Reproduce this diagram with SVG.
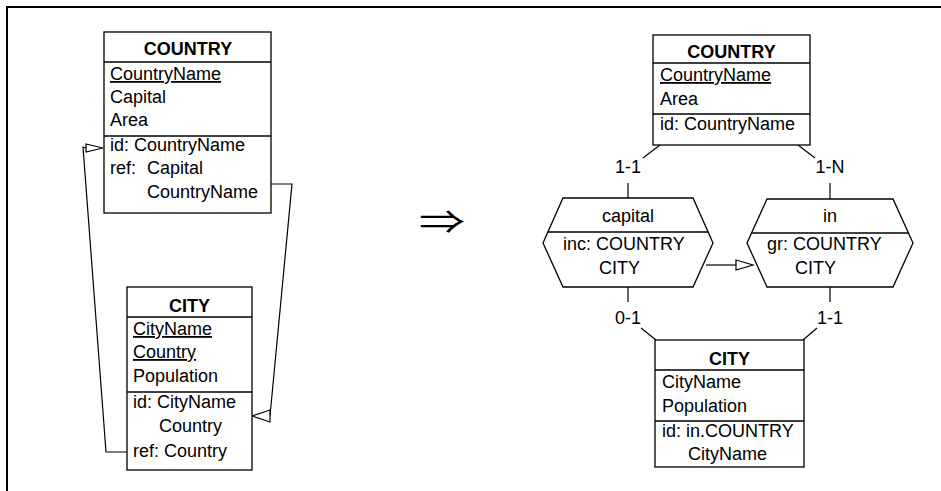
<svg xmlns="http://www.w3.org/2000/svg" width="941" height="491" viewBox="0 0 941 491">
  <style>
    .box { fill: #fff; stroke: #000; stroke-width: 1.3; }
    .sep { stroke: #000; stroke-width: 1.3; fill: none; }
    .ln { stroke: #000; stroke-width: 1.2; fill: none; }
    .head { fill: #fff; stroke: #000; stroke-width: 1.2; }
    text { font-family: "Liberation Sans", Arial, sans-serif; font-size: 18px; fill: #000; }
    .title { font-weight: bold; text-anchor: middle; }
    .mid { text-anchor: middle; }
    .u { text-decoration: underline; }
    .implies { font-family: "Noto Sans CJK JP", "DejaVu Sans", sans-serif; font-size: 46px; text-anchor: middle; }
  </style>

  <rect width="941" height="491" fill="#fff"/>
  <!-- frame -->
  <path d="M7,491 V7 H941" fill="none" stroke="#000" stroke-width="2"/>

  <!-- connectors -->
  <g id="connectors">
    <!-- CITY.ref Country -> COUNTRY.id -->
    <polyline class="ln" points="127,452 106,452 83,147 86,148"/>
    <polygon class="head" points="86,144 103,148 86,152"/>
    <!-- COUNTRY.ref Capital -> CITY.id -->
    <polyline class="ln" points="271,184 292,184 270,416"/>
    <polygon class="head" points="270,410 252,416 270,422"/>

    <!-- transformation arrow, flattened vertically -->
    <text x="442" y="238" class="implies" transform="matrix(1 0 0 0.72 0 62.2)">⇒</text>

    <!-- capital role links -->
    <line class="ln" x1="660" y1="145" x2="643" y2="158"/>
    <text x="628" y="173" class="mid">1-1</text>
    <line class="ln" x1="628" y1="183" x2="628" y2="198"/>
    <line class="ln" x1="628" y1="287" x2="628" y2="302"/>
    <text x="628" y="324" class="mid">0-1</text>
    <line class="ln" x1="641" y1="328" x2="656" y2="340"/>

    <!-- in role links -->
    <line class="ln" x1="798" y1="145" x2="815" y2="158"/>
    <text x="830" y="173" class="mid">1-N</text>
    <line class="ln" x1="830" y1="183" x2="830" y2="199"/>
    <line class="ln" x1="830" y1="287" x2="830" y2="302"/>
    <text x="830" y="324" class="mid">1-1</text>
    <line class="ln" x1="817" y1="328" x2="803" y2="340"/>

    <!-- inclusion constraint capital -> in -->
    <line class="ln" x1="706" y1="265" x2="736" y2="265"/>
    <polygon class="head" points="736,260 753,265 736,270"/>
  </g>

  <!-- left schema -->
  <g id="country-left">
    <rect class="box" x="104" y="32" width="167" height="181"/>
    <line class="sep" x1="104" y1="62" x2="271" y2="62"/>
    <line class="sep" x1="104" y1="136" x2="271" y2="136"/>
    <text x="188" y="55" class="title">COUNTRY</text>
    <text x="110" y="80" class="u">CountryName</text>
    <text x="110" y="103">Capital</text>
    <text x="110" y="126">Area</text>
    <text x="110" y="151">id: CountryName</text>
    <text x="110" y="174">ref:</text>
    <text x="147" y="174">Capital</text>
    <text x="147" y="198">CountryName</text>
  </g>

  <g id="city-left">
    <rect class="box" x="127" y="287" width="125" height="183"/>
    <line class="sep" x1="127" y1="317" x2="252" y2="317"/>
    <line class="sep" x1="127" y1="392" x2="252" y2="392"/>
    <text x="189.5" y="312" class="title">CITY</text>
    <text x="133" y="335" class="u">CityName</text>
    <text x="133" y="358" class="u">Country</text>
    <text x="133" y="382">Population</text>
    <text x="133" y="408">id: CityName</text>
    <text x="159" y="432">Country</text>
    <text x="133" y="457">ref:</text>
    <text x="164" y="457">Country</text>
  </g>

  <!-- right schema -->
  <g id="country-right">
    <rect class="box" x="653" y="35" width="157" height="110"/>
    <line class="sep" x1="653" y1="63" x2="810" y2="63"/>
    <line class="sep" x1="653" y1="114" x2="810" y2="114"/>
    <text x="731.5" y="58" class="title">COUNTRY</text>
    <text x="660" y="81" class="u">CountryName</text>
    <text x="660" y="105">Area</text>
    <text x="660" y="130">id: CountryName</text>
  </g>

  <g id="rel-capital">
    <polygon class="box" points="563,198 693,198 713,243 693,287 563,287 543,243"/>
    <line class="sep" x1="548" y1="232" x2="708" y2="232"/>
    <text x="628" y="222" class="mid">capital</text>
    <text x="563" y="250">inc: COUNTRY</text>
    <text x="599" y="274">CITY</text>
  </g>

  <g id="rel-in">
    <polygon class="box" points="767,199 893,199 913,243 893,287 767,287 747,243"/>
    <line class="sep" x1="752" y1="233" x2="908" y2="233"/>
    <text x="830" y="222" class="mid">in</text>
    <text x="767" y="250">gr: COUNTRY</text>
    <text x="795" y="274">CITY</text>
  </g>

  <g id="city-right">
    <rect class="box" x="655" y="340" width="149" height="127"/>
    <line class="sep" x1="655" y1="370" x2="804" y2="370"/>
    <line class="sep" x1="655" y1="421" x2="804" y2="421"/>
    <text x="729.5" y="365" class="title">CITY</text>
    <text x="662" y="388">CityName</text>
    <text x="662" y="412">Population</text>
    <text x="662" y="437">id: in.COUNTRY</text>
    <text x="688" y="460">CityName</text>
  </g>
</svg>
